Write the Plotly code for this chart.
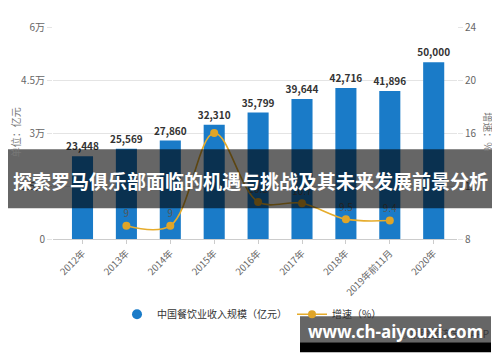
import plotly.graph_objects as go

years = ["2012年", "2013年", "2014年", "2015年", "2016年", "2017年", "2018年", "2019年前11月", "2020年"]
revenue = [23448, 25569, 27860, 32310, 35799, 39644, 42716, 41896, 50000]
growth = [None, 9.0, 9.0, 16.0, 10.8, 10.7, 9.5, 9.4, None]
growth_labels = ["", "9", "9", "", "10.8", "10.7", "9.5", "9.4", ""]
left_ticks = [0, 15000, 30000, 45000, 60000]
left_tick_text = ["0", "1.5万", "3万", "4.5万", "6万"]
right_ticks = [8, 12, 16, 20, 24]

FONT = "Noto Sans CJK SC, Noto Sans, sans-serif"
BLUE = "#1a7bc8"
GOLD = "#e6ac2c"

# the page body has an 8px margin: work in page pixels and convert
OFF = 8
W0, W1 = 53, 457          # plot area, page px
T, B = 26.7, 238.7
PW, PH = W1 - W0, B - T
C0, STEP = 82.5, 43.9     # first category centre and spacing, page px

def px(x):
    return (x - W0) / PW

def py(y):
    return (B - y) / PH

xs = list(range(len(years)))
fig = go.Figure()
fig.add_trace(go.Bar(
    x=xs, y=revenue, name="中国餐饮业收入规模（亿元）", showlegend=False,
    marker=dict(color=BLUE, line=dict(width=0)), width=0.48,
    texttemplate="%{y:,}", textposition="outside", cliponaxis=False, constraintext="none",
    textfont=dict(size=10, color="#333", family=FONT, weight="bold"),
))
fig.add_trace(go.Scatter(
    x=[None], y=[None], name="中国餐饮业收入规模（亿元）", mode="markers",
    marker=dict(color=BLUE, size=10, symbol="circle"),
))
fig.add_trace(go.Scatter(
    x=xs, y=growth, name="增速（%）", yaxis="y2", text=growth_labels,
    mode="lines+markers+text", line=dict(color=GOLD, width=1.6, shape="spline"),
    marker=dict(color="#e0a528", size=8),
    texttemplate="%{text}", textposition="top center",
    textfont=dict(size=10, color="#555", family=FONT),
    connectgaps=False, cliponaxis=False,
))

shapes = [
    dict(type="rect", xref="paper", yref="paper", x0=px(-10), x1=px(510), y0=py(208), y1=py(149),
         fillcolor="rgba(0,0,0,0.6)", line=dict(width=0), layer="above"),
    dict(type="rect", xref="paper", yref="paper", x0=px(300), x1=px(491), y0=py(342), y1=py(316),
         fillcolor="rgba(0,0,0,0.6)", line=dict(width=0), layer="above"),
    dict(type="rect", xref="paper", yref="paper", x0=px(300), x1=px(491), y0=py(352), y1=py(342),
         fillcolor="#000", line=dict(width=0), layer="above"),
]

def ann(text, x, y, size, color, **kw):
    d = dict(text=text, xref="paper", yref="paper", x=px(x), y=py(y), showarrow=False,
             xanchor="center", yanchor="middle", font=dict(size=size, color=color, family=FONT))
    d.update(kw)
    return d

annotations = [
    ann("探索罗马俱乐部面临的机遇与挑战及其未来发展前景分析", 250, 180, 19, "white",
        font=dict(size=19, color="white", family=FONT, weight="bold")),
    ann("单位：亿元", 15, 132, 10, "#777", textangle=-90),
    ann("增速：%", 489, 131, 10, "#777", textangle=90),
    ann("◎ 前瞻经济学人APP", 491, 333, 10, "#3a3a3a", xanchor="right"),
    ann("www.ch-aiyouxi.com", 395, 331, 17, "white",
        font=dict(size=17, color="white", family="Noto Sans, sans-serif", weight="bold")),
]

fig.update_layout(
    width=500, height=362,
    margin=dict(l=W0 - OFF, r=500 - (W1 - OFF), t=T - OFF, b=362 - (B - OFF), autoexpand=False),
    paper_bgcolor="white", plot_bgcolor="white",
    font=dict(family=FONT, color="#666", size=10),
    xaxis=dict(
        range=[(W0 - C0) / STEP, (W1 - C0) / STEP], automargin=False,
        tickvals=xs, ticktext=years, tickangle=-45,
        showgrid=False, showline=True, linecolor="#ccc", linewidth=1,
        ticks="outside", ticklen=4, tickcolor="#ccc",
        tickfont=dict(size=9.5, color="#666"), zeroline=False,
    ),
    yaxis=dict(
        range=[0, 60000], tickvals=left_ticks, ticktext=left_tick_text, automargin=False,
        showgrid=True, gridcolor="#e4e4e4", gridwidth=1, zeroline=False,
        ticks="outside", ticklen=5, tickcolor="#e4e4e4",
        tickfont=dict(size=10, color="#666"), showline=False,
    ),
    yaxis2=dict(
        range=[8, 24], tickvals=right_ticks, overlaying="y", side="right", automargin=False,
        showgrid=False, zeroline=False, ticks="outside", ticklen=5, tickcolor="#e4e4e4",
        tickfont=dict(size=10, color="#666"), showline=False,
    ),
    legend=dict(orientation="h", x=px(252), y=py(314), xanchor="center", yanchor="middle",
                font=dict(size=10, color="#333", family=FONT),
                bgcolor="rgba(0,0,0,0)"),
    shapes=shapes, annotations=annotations, showlegend=True,
)

fig.write_html("out.html")
